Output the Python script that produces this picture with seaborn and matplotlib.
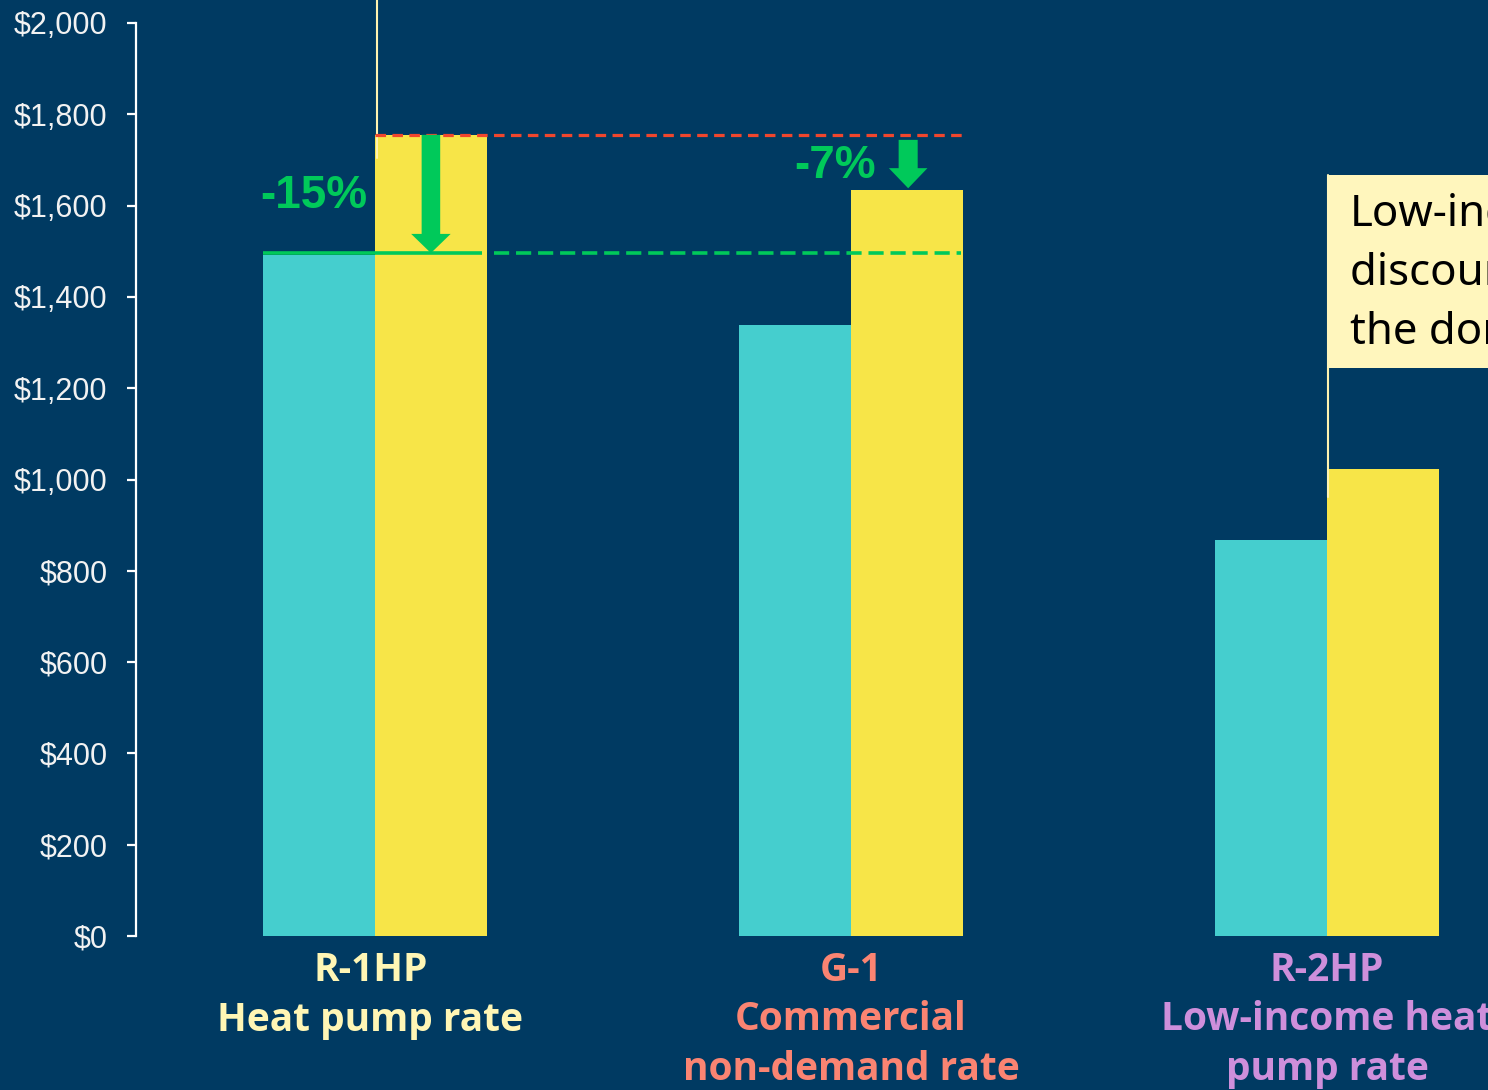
import matplotlib
matplotlib.use("Agg")
import matplotlib.pyplot as plt
from matplotlib.patches import FancyArrow, Rectangle
import matplotlib.transforms as mtransforms
import seaborn as sns
import pandas as pd

# Annual bill by rate schedule
categories = ["R-1HP", "G-1", "R-2HP"]
subtitles = ["Heat pump rate", "Commercial\nnon-demand rate", "Low-income heat\npump rate"]
series = ["Heat pump rate bill", "Standard rate bill"]
heat_pump_bill = [1492, 1338, 867]
standard_bill = [1755, 1634, 1023]
savings_labels = ["-15%", "-7%"]
yticks = [0, 200, 400, 600, 800, 1000, 1200, 1400, 1600, 1800, 2000]
callout_text = "Low-income\ndiscount on\nthe domestic rate"

BG = "#003A62"
TEAL = "#45CECE"
YELLOW = "#F7E548"
GREEN = "#00C95A"
RED = "#F0462D"
CALLOUT = "#FFF6BD"
label_colors = ["#FFF6B5", "#FA8472", "#CE8FDB"]

df = pd.DataFrame({
    "category": categories * 2,
    "series": [series[0]] * 3 + [series[1]] * 3,
    "bill": heat_pump_bill + standard_bill,
})

sns.set_theme(style="ticks")
plt.rcParams["font.family"] = ["Liberation Sans", "DejaVu Sans"]

fig = plt.figure(figsize=(14.88, 10.90), dpi=100, facecolor=BG)
ax = fig.add_axes([136 / 1488, 154 / 1090, 1 - 136 / 1488, 913 / 1090])
ax.set_facecolor(BG)

W = 0.47
sns.barplot(data=df, x="category", y="bill", hue="series", hue_order=series,
            order=categories, palette=[TEAL, YELLOW], width=W, saturation=1,
            legend=False, ax=ax, linewidth=0)

ax.set_xlim(-0.502, 2.338)
ax.set_ylim(0, 2000)
ax.set_yticks(yticks)
ax.set_yticklabels([f"${v:,}" for v in yticks])
ax.set_xticks([])
ax.set_xlabel("")
ax.set_ylabel("")
for side in ["top", "right", "bottom"]:
    ax.spines[side].set_visible(False)
ax.spines["left"].set_color("white")
ax.spines["left"].set_linewidth(1.6)
ax.tick_params(axis="y", colors="white", length=6.5, width=1.6, pad=14,
               labelsize=22, labelcolor="#F2F2F2")

half = W / 4  # offset of each bar centre from the group centre
bw = W / 2

# Reference lines: standard R-1HP bill and heat pump R-1HP bill
ax.plot([0, 1 + bw], [standard_bill[0]] * 2, color=RED, lw=2.3,
        linestyle=(0, (3.3, 2.0)), zorder=4)
ax.plot([-bw, 0.225], [heat_pump_bill[0] + 4] * 2, color=GREEN, lw=2.6,
        solid_capstyle="butt", zorder=4)
ax.plot([0.25, 1 + bw - 0.003], [heat_pump_bill[0] + 4] * 2, color=GREEN, lw=2.6,
        linestyle=(0, (4.2, 1.9)), zorder=4)

# Savings arrows
ax.add_patch(FancyArrow(half, standard_bill[0], 0, heat_pump_bill[0] - standard_bill[0] + 4,
                        width=0.039, head_width=0.083, head_length=42,
                        length_includes_head=True, color=GREEN, lw=0, zorder=5))
ax.add_patch(FancyArrow(1 + 0.12, 1744, 0, standard_bill[1] + 4 - 1744,
                        width=0.040, head_width=0.081, head_length=44,
                        length_includes_head=True, color=GREEN, lw=0, zorder=5))

ax.text(-0.017, 1620, savings_labels[0], color=GREEN, fontsize=33,
        fontweight="bold", ha="right", va="center", zorder=6)
ax.text(1.053, 1687, savings_labels[1], color=GREEN, fontsize=33,
        fontweight="bold", ha="right", va="center", zorder=6)

# Callout leader lines and box
ax.plot([0.004, 0.004], [1704, 2060], color="#FFF3B0", lw=1.5, clip_on=False, zorder=3)
ax.plot([2.002, 2.002], [962, 1667], color="#FFF3B0", lw=1.5, clip_on=False, zorder=3)
ax.add_patch(Rectangle((2.0, 1244), 1.0, 1667 - 1244, facecolor=CALLOUT,
                       edgecolor="none", clip_on=False, zorder=3))
ax.text(2.048, 1450, callout_text, color="black", fontsize=31.5, ha="left",
        va="center", linespacing=1.45, family=["Noto Sans", "DejaVu Sans"], zorder=4)

# Category labels under the bars
trans = mtransforms.blended_transform_factory(ax.transData, fig.transFigure)
label_shift = [-0.01, 0.0, 0.0]
for i, (cat, sub, col) in enumerate(zip(categories, subtitles, label_colors)):
    ax.text(i + label_shift[i], 1 - 951 / 1090, cat + "\n" + sub, transform=trans,
            color=col, fontsize=28, fontweight="bold", ha="center", va="top",
            linespacing=1.35, family=["Open Sans", "DejaVu Sans"], clip_on=False)

fig.savefig("out.png", dpi=100, facecolor=BG)
